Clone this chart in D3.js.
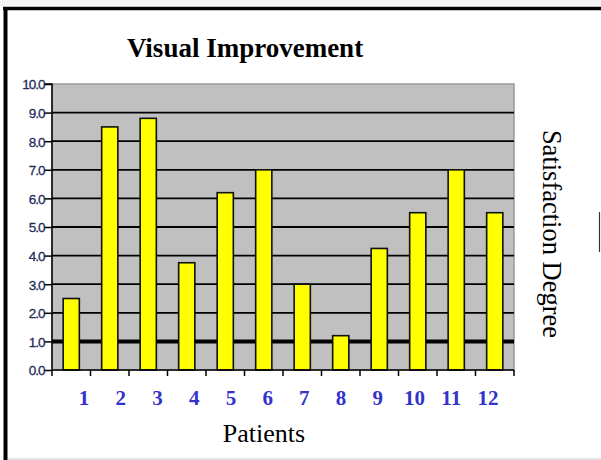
<!DOCTYPE html>
<meta charset="utf-8">
<script src="https://d3js.org/d3.v7.min.js"></script>
<style>
  body { margin: 0; background: #fff; }
</style>
<div id="chart"></div>
<script>

// data
var patients = ["1", "2", "3", "4", "5", "6", "7", "8", "9", "10", "11", "12"];
var scores = [2.5, 8.5, 8.8, 3.75, 6.2, 7.0, 3.0, 1.2, 4.25, 5.5, 7.0, 5.5];
var yTicks = [0, 1, 2, 3, 4, 5, 6, 7, 8, 9, 10];

var W = 601, H = 460;
var plot = {left: 52, right: 514, top: 84, bottom: 370};

var svg = d3.select("#chart")
  .append("svg")
    .attr("width", W)
    .attr("height", H);

// outer frame
svg.append("rect").attr("x", 0).attr("y", 0).attr("width", W).attr("height", 6).attr("fill", "#f3f3f3");
svg.append("line").attr("x1", 3).attr("x2", W).attr("y1", 8.5).attr("y2", 8.5)
  .attr("stroke", "#000").attr("stroke-width", 3.5);
svg.append("line").attr("x1", 5.5).attr("x2", 5.5).attr("y1", 7).attr("y2", H)
  .attr("stroke", "#000").attr("stroke-width", 4);
svg.append("line").attr("x1", 8).attr("x2", W).attr("y1", 459).attr("y2", 459)
  .attr("stroke", "#c8c8c8").attr("stroke-width", 1);
svg.append("line").attr("x1", 599.5).attr("x2", 599.5).attr("y1", 212).attr("y2", 252)
  .attr("stroke", "#333").attr("stroke-width", 1.2);

// scales
var x = d3.scaleBand()
  .domain(patients)
  .range([plot.left, plot.right])
  .padding(0);

var y = d3.scaleLinear()
  .domain([0, 10])
  .range([plot.bottom, plot.top]);

// grey plot area
svg.append("rect")
  .attr("x", plot.left)
  .attr("y", y(10))
  .attr("width", plot.right - plot.left)
  .attr("height", y(0) - y(10))
  .attr("fill", "#c0c0c0")
  .attr("stroke", "#9a9a9a")
  .attr("stroke-width", 1.5);

// gridlines
svg.append("g")
  .selectAll("line")
  .data(yTicks.filter(function(d){ return d > 0 && d < 10; }))
  .enter()
  .append("line")
    .attr("x1", plot.left)
    .attr("x2", plot.right)
    .attr("y1", function(d){ return y(d); })
    .attr("y2", function(d){ return y(d); })
    .attr("stroke", "#000")
    .attr("stroke-width", function(d){ return d == 1 ? 4 : 1.8; });

// bars
var barW = x.bandwidth() * 0.42;
svg.append("g")
  .selectAll("rect")
  .data(scores)
  .enter()
  .append("rect")
    .attr("x", function(d, i){ return x(patients[i]) + (x.bandwidth() - barW) / 2; })
    .attr("y", function(d){ return y(d); })
    .attr("width", barW)
    .attr("height", function(d){ return y(0) - y(d); })
    .attr("fill", "#ffff00")
    .attr("stroke", "#111")
    .attr("stroke-width", 1.6);

// y axis
var yAxis = d3.axisLeft(y)
  .tickValues(yTicks)
  .tickSize(8)
  .tickFormat(d3.format(".1f"));
var gy = svg.append("g")
  .attr("transform", "translate(" + plot.left + ",0)")
  .call(yAxis);
gy.select(".domain").attr("stroke", "#000").attr("stroke-width", 1.5)
  .attr("d", "M-8," + y(10) + "H0V" + y(0));
gy.selectAll(".tick line").attr("stroke", "#000").attr("stroke-width", 1.5);
gy.selectAll(".tick text")
  .attr("x", -7.5)
  .attr("dy", "0.36em")
  .style("font-family", "'Liberation Sans', Arial, sans-serif")
  .style("font-size", "13.5px")
  .style("letter-spacing", "-1px")
  .style("stroke", "#1f2d5c")
  .style("stroke-width", "0.3px")
  .style("fill", "#1f2d5c");

// x axis: ticks at band edges
var edges = patients.map(function(p){ return x(p); }).concat([plot.right]);
svg.append("line")
  .attr("x1", plot.left).attr("x2", plot.right)
  .attr("y1", y(0)).attr("y2", y(0))
  .attr("stroke", "#000").attr("stroke-width", 1.5);
svg.append("g")
  .selectAll("line")
  .data(edges)
  .enter()
  .append("line")
    .attr("x1", function(d){ return d; })
    .attr("x2", function(d){ return d; })
    .attr("y1", y(0))
    .attr("y2", y(0) + 6)
    .attr("stroke", "#000")
    .attr("stroke-width", 1.5);

// patient numbers (placed as separate text in the original)
var labelX = d3.scaleLinear()
  .domain([1, 12])
  .range([84, 488]);
svg.append("g")
  .selectAll("text")
  .data(patients)
  .enter()
  .append("text")
    .attr("x", function(d){ return labelX(+d); })
    .attr("y", 405)
    .attr("text-anchor", "middle")
    .style("font-family", "'Liberation Serif', 'Times New Roman', serif")
    .style("font-weight", "bold")
    .style("font-size", "21px")
    .style("fill", "#3333cc")
    .text(function(d){ return d; });

// title
svg.append("text")
  .attr("x", 245)
  .attr("y", 57)
  .attr("text-anchor", "middle")
  .style("font-family", "'Liberation Serif', 'Times New Roman', serif")
  .style("font-weight", "bold")
  .style("font-size", "27px")
  .style("fill", "#000")
  .text("Visual Improvement");

// x title
svg.append("text")
  .attr("x", 264)
  .attr("y", 442)
  .attr("text-anchor", "middle")
  .style("font-family", "'Liberation Serif', 'Times New Roman', serif")
  .style("font-size", "26px")
  .style("fill", "#000")
  .text("Patients");

// right title
svg.append("text")
  .attr("transform", "translate(543,234) rotate(90)")
  .attr("text-anchor", "middle")
  .style("font-family", "'Liberation Serif', 'Times New Roman', serif")
  .style("font-size", "26.5px")
  .style("fill", "#000")
  .text("Satisfaction Degree");

</script>
